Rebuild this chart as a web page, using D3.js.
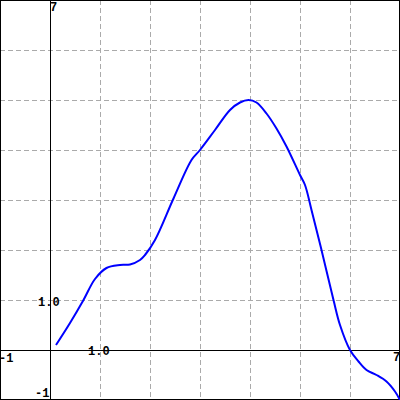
<!DOCTYPE html>
<html><head><meta charset="utf-8">
<script src="https://cdn.jsdelivr.net/npm/d3@7"></script>
<style>html,body{margin:0;padding:0;background:#fff}svg{display:block}</style>
</head><body>
<svg id="c" width="400" height="400"></svg>
<script>
const xDomain = [-1, 7];
const yDomain = [-1, 7];
const gridTicks = [-1, 0, 1, 2, 3, 4, 5, 6, 7];
const curveX = [0.12, 0.4, 0.67, 0.9, 1.13, 1.4, 1.6, 1.8, 1.9, 2.1, 2.47, 2.83, 3.0, 3.3, 3.6, 3.8, 3.97, 4.13, 4.33, 4.53, 4.73, 5.0, 5.1, 5.23, 5.43, 5.67, 5.8, 6.0, 6.17, 6.33, 6.53, 6.73, 6.9, 7.0];
const curveY = [0.1, 0.54, 1.0, 1.42, 1.64, 1.7, 1.71, 1.8, 1.9, 2.2, 3.03, 3.8, 4.0, 4.4, 4.8, 4.95, 5.0, 4.95, 4.73, 4.43, 4.07, 3.5, 3.3, 2.8, 2.0, 1.0, 0.5, 0.0, -0.23, -0.4, -0.5, -0.63, -0.83, -1.0];
const xLabels = ["-1", "1.0", "7"];
const yLabels = ["7", "1.0", "-1"];

const W = 400, H = 400;
const x = d3.scaleLinear().domain(xDomain).range([0, W]);
const y = d3.scaleLinear().domain(yDomain).range([H, 0]);
const svg = d3.select("#c");

const inner = gridTicks.filter(t => t > -1 && t < 7 && t !== 0);
svg.append("g").selectAll("line").data(inner).join("line")
  .attr("x1", d => x(d) + 0.5).attr("x2", d => x(d) + 0.5).attr("y1", 0).attr("y2", H)
  .attr("stroke", "#aaa").attr("stroke-dasharray", "5,3");
svg.append("g").selectAll("line").data(inner).join("line")
  .attr("y1", d => y(d) + 0.5).attr("y2", d => y(d) + 0.5).attr("x1", 0).attr("x2", W)
  .attr("stroke", "#aaa").attr("stroke-dasharray", "5,3");

svg.append("line").attr("x1", x(0) + 0.5).attr("x2", x(0) + 0.5).attr("y1", 0).attr("y2", H).attr("stroke", "#000");
svg.append("line").attr("y1", y(0) + 0.5).attr("y2", y(0) + 0.5).attr("x1", 0).attr("x2", W).attr("stroke", "#000");
svg.append("rect").attr("x", 0.5).attr("y", 0.5).attr("width", W - 1).attr("height", H - 1)
  .attr("fill", "none").attr("stroke", "#000");

const pts = curveX.map((v, i) => [v, curveY[i]]);
svg.append("path").datum(pts)
  .attr("d", d3.line().x(d => x(d[0])).y(d => y(d[1])).curve(d3.curveCatmullRom.alpha(0.5)))
  .attr("fill", "none").attr("stroke", "#0000ff").attr("stroke-width", 2);

const tf = (s) => s.attr("font-family", "Liberation Mono, monospace").attr("font-weight", "bold").attr("font-size", 12).attr("fill", "#000");
svg.append("text").call(tf).attr("x", x(-1) - 1).attr("y", y(0) + 12).text(xLabels[0]);
svg.append("text").call(tf).attr("x", x(1) - 12).attr("y", y(0) + 5).text(xLabels[1]);
svg.append("text").call(tf).attr("x", x(7) - 7).attr("y", y(0) + 11).text(xLabels[2]);
svg.append("text").call(tf).attr("x", x(0)).attr("y", y(7) + 11).text(yLabels[0]);
svg.append("text").call(tf).attr("x", x(0) - 12).attr("y", y(1) + 6).text(yLabels[1]);
svg.append("text").call(tf).attr("x", x(0) - 15).attr("y", y(-1) - 3).text(yLabels[2]);
</script>
</body></html>
